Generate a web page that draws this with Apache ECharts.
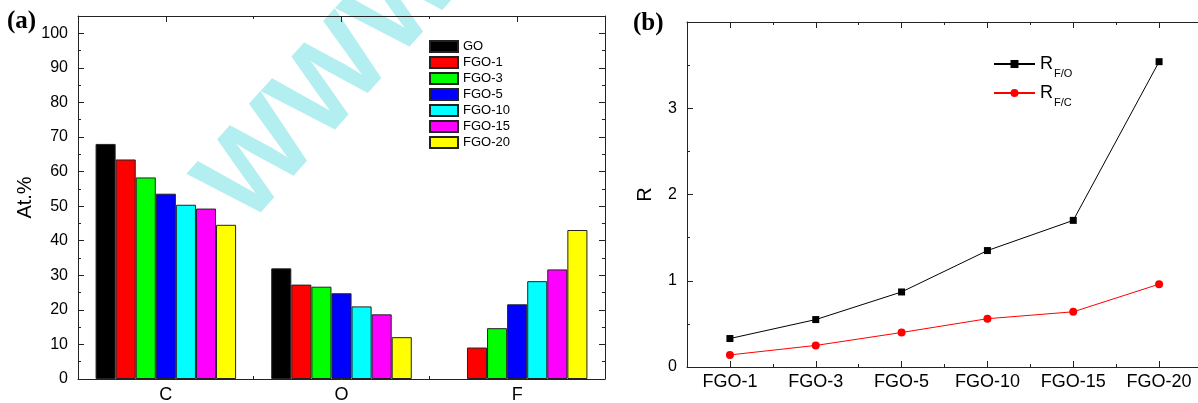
<!DOCTYPE html>
<html>
<head>
<meta charset="utf-8">
<script src="https://cdn.jsdelivr.net/npm/echarts@6/dist/echarts.min.js"></script>
<style>
html,body{margin:0;padding:0;background:#fff;}
#chart{width:1198px;height:403px;}
</style>
</head>
<body>
<div id="chart"></div>
<script>
// ---- Panel (a) data: atomic percentages ----
const elements = ['C', 'O', 'F'];
const sampleNames = ['GO', 'FGO-1', 'FGO-3', 'FGO-5', 'FGO-10', 'FGO-15', 'FGO-20'];
const valGO    = [68.0, 32.0, null];
const valFGO1  = [63.5, 27.3, 9.1];
const valFGO3  = [58.3, 26.7, 14.7];
const valFGO5  = [53.6, 24.8, 21.6];
const valFGO10 = [50.4, 21.0, 28.3];
const valFGO15 = [49.3, 18.7, 31.7];
const valFGO20 = [44.6, 12.1, 43.1];
const barColors = ['#000000', '#ff0000', '#00ff00', '#0000ff', '#00ffff', '#ff00ff', '#ffff00'];

// ---- Panel (b) data: ratios ----
const rSamples = ['FGO-1', 'FGO-3', 'FGO-5', 'FGO-10', 'FGO-15', 'FGO-20'];
const rFO = [0.33, 0.55, 0.87, 1.35, 1.70, 3.54];
const rFC = [0.14, 0.25, 0.40, 0.56, 0.64, 0.96];

const FONT = 'Liberation Sans, Arial, sans-serif';
const AX = '#222';

const barData = [valGO, valFGO1, valFGO3, valFGO5, valFGO10, valFGO15, valFGO20];

function catAxis(grid, data, pos, major, showLabel, labelMargin) {
  return {
    type: 'category', gridIndex: grid, data: data, position: pos,
    boundaryGap: true,
    axisLine: { show: major, lineStyle: { color: AX, width: 1 } },
    axisTick: { show: true, inside: true, alignWithLabel: major, length: major ? 6 : 3, lineStyle: { color: AX, width: 1 } },
    axisLabel: { show: showLabel, fontSize: 18, color: '#000', fontFamily: FONT, margin: labelMargin || 7 },
    splitLine: { show: false }
  };
}

function valAxis(grid, pos, min, max, interval, showLabel, extra) {
  return Object.assign({
    type: 'value', gridIndex: grid, position: pos, min: min, max: max, interval: interval,
    axisLine: { show: true, lineStyle: { color: AX, width: 1 } },
    axisTick: { show: true, inside: true, length: 6, lineStyle: { color: AX, width: 1 } },
    minorTick: { show: true, splitNumber: 2, length: 3, lineStyle: { color: AX, width: 1 } },
    axisLabel: { show: showLabel, fontSize: 16, color: '#000', fontFamily: FONT, margin: 10, showMaxLabel: false },
    splitLine: { show: false },
    minorSplitLine: { show: false }
  }, extra || {});
}

const barSeries = sampleNames.map((name, i) => ({
  name: name,
  type: 'bar',
  xAxisIndex: 0,
  yAxisIndex: 0,
  data: barData[i],
  barGap: '0%',
  barCategoryGap: '20%',
  itemStyle: { color: barColors[i], borderColor: '#222', borderWidth: 1 },
  emphasis: { disabled: true },
  z: 3
}));

const option = {
  animation: false,
  backgroundColor: '#ffffff',
  textStyle: { fontFamily: FONT },
  title: [
    { text: '(a)', left: 2, top: 4, textStyle: { fontFamily: 'Liberation Serif, Times New Roman, serif', fontWeight: 'bold', fontSize: 25, color: '#000' } },
    { text: '(b)', left: 628, top: 6, textStyle: { fontFamily: 'Liberation Serif, Times New Roman, serif', fontWeight: 'bold', fontSize: 25, color: '#000' } }
  ],
  graphic: [
    {
      type: 'text', z: 0, silent: true,
      x: 334, y: 82, rotation: 0.84,
      style: { text: 'WWW', font: 'bold 118px Liberation Sans, Arial, sans-serif', fill: '#b3eef0', align: 'center', verticalAlign: 'middle' }
    }
  ],
  legend: [
    {
      data: sampleNames, orient: 'vertical', left: 424, top: 35,
      icon: 'rect', itemWidth: 28, itemHeight: 11, itemGap: 3,
      textStyle: { fontSize: 13, color: '#000', fontFamily: FONT }
    },
    {
      data: ['RFO', 'RFC'], orient: 'vertical', left: 988, top: 50,
      itemWidth: 41, itemHeight: 10, itemGap: 4.5,
      formatter: function (n) { return n === 'RFO' ? '{r|R}{s|F/O}' : '{r|R}{s|F/C}'; },
      textStyle: {
        color: '#000', fontFamily: FONT,
        rich: {
          r: { fontSize: 18, color: '#000', fontFamily: FONT },
          s: { fontSize: 11, color: '#000', fontFamily: FONT, padding: [20, 0, 0, 1] }
        }
      }
    }
  ],
  grid: [
    { left: 78, top: 16, width: 527, height: 363, containLabel: false, outerBoundsMode: 'none' },
    { left: 687, top: 22, width: 515, height: 345, containLabel: false, outerBoundsMode: 'none' }
  ],
  xAxis: [
    catAxis(0, elements, 'bottom', true, true, 7),
    catAxis(0, elements, 'bottom', false, false),
    catAxis(0, elements, 'top', true, false),
    catAxis(0, elements, 'top', false, false),
    catAxis(1, rSamples, 'bottom', true, true, 6),
    catAxis(1, rSamples, 'bottom', false, false),
    catAxis(1, rSamples, 'top', true, false),
    catAxis(1, rSamples, 'top', false, false)
  ],
  yAxis: [
    valAxis(0, 'left', 0, 105, 10, true, {
      name: 'At.%', nameLocation: 'middle', nameGap: 43, nameRotate: 90,
      nameTextStyle: { fontSize: 20, color: '#000', fontFamily: FONT }
    }),
    valAxis(0, 'right', 0, 105, 10, false),
    valAxis(1, 'left', 0, 4, 1, true, {
      name: 'R', nameLocation: 'middle', nameGap: 32, nameRotate: 90,
      nameTextStyle: { fontSize: 20, color: '#000', fontFamily: FONT }
    })
  ],
  series: barSeries.concat([
    {
      name: 'RFO', type: 'line', xAxisIndex: 4, yAxisIndex: 2, data: rFO,
      symbol: 'rect', symbolSize: 7,
      lineStyle: { color: '#000', width: 1 }, itemStyle: { color: '#000' },
      emphasis: { disabled: true }, z: 4
    },
    {
      name: 'RFC', type: 'line', xAxisIndex: 4, yAxisIndex: 2, data: rFC,
      symbol: 'circle', symbolSize: 8,
      lineStyle: { color: '#ff0000', width: 1 }, itemStyle: { color: '#ff0000' },
      emphasis: { disabled: true }, z: 4
    }
  ])
};

const chart = echarts.init(document.getElementById('chart'), null, { renderer: 'canvas' });
chart.setOption(option);
</script>
</body>
</html>
